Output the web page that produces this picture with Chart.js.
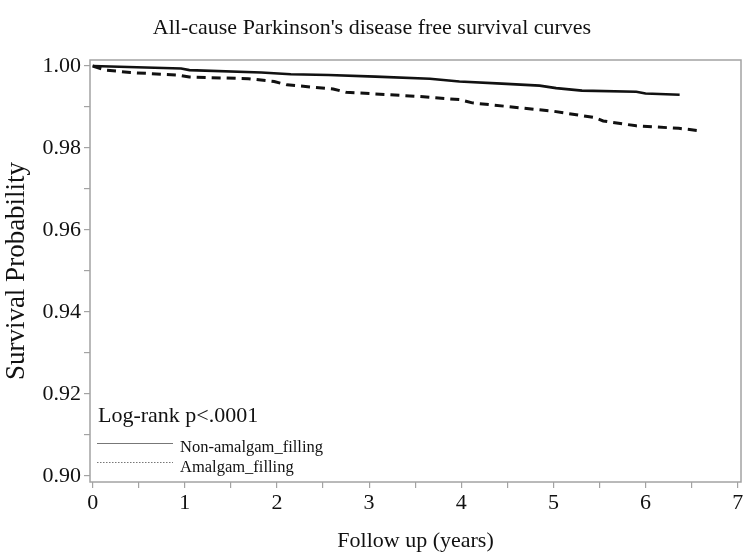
<!DOCTYPE html>
<html>
<head>
<meta charset="utf-8">
<script src="https://cdn.jsdelivr.net/npm/chart.js@4"></script>
<style>
html,body{margin:0;padding:0;background:#fff;}
#wrap{width:750px;height:560px;}
</style>
</head>
<body>
<div id="wrap"><canvas id="c" width="750" height="560"></canvas></div>
<script>
// ---- data ----
const chartTitle = "All-cause Parkinson's disease free survival curves";
const xTitle = "Follow up (years)";
const yTitle = "Survival Probability";
const seriesNames = ["Non-amalgam_filling", "Amalgam_filling"];
const annotationText = "Log-rank p<.0001";

const nonAmalgamTime = [0, 0.96, 1.05, 1.83, 2.15, 2.56, 3.07, 3.66, 3.98, 4.44, 4.85, 5.03, 5.31, 5.90, 6.00, 6.37];
const nonAmalgamSurv = [1.0000, 0.9994, 0.9990, 0.9984, 0.9980, 0.9978, 0.9974, 0.9969, 0.9962, 0.9957, 0.9952, 0.9946, 0.9940, 0.9937, 0.9933, 0.9930];

const amalgamTime = [0, 0.14, 0.41, 0.92, 1.05, 1.69, 1.97, 2.11, 2.61, 2.75, 3.52, 3.98, 4.12, 4.81, 4.99, 5.45, 5.54, 5.90, 6.36, 6.59];
const amalgamSurv = [1.0000, 0.9990, 0.9984, 0.9978, 0.9973, 0.9969, 0.9962, 0.9954, 0.9944, 0.9936, 0.9926, 0.9918, 0.9910, 0.9894, 0.9890, 0.9874, 0.9866, 0.9854, 0.9848, 0.9842];

const xTicks = [0, 0.5, 1, 1.5, 2, 2.5, 3, 3.5, 4, 4.5, 5, 5.5, 6, 6.5, 7];
const xTickLabels = ["0", "", "1", "", "2", "", "3", "", "4", "", "5", "", "6", "", "7"];
const yTicks = [0.90, 0.91, 0.92, 0.93, 0.94, 0.95, 0.96, 0.97, 0.98, 0.99, 1.00];
const yTickLabels = ["0.90", "", "0.92", "", "0.94", "", "0.96", "", "0.98", "", "1.00"];

// ---- chart ----
const FONT = "'Liberation Serif', 'DejaVu Serif', serif";
const TXT = '#111';
const FRAME = '#a3a3a3';

function toXY(xs, ys){ return xs.map((x,i)=>({x:x, y:ys[i]})); }

const overlay = {
  id: 'overlay',
  afterDraw(chart){
    const ctx = chart.ctx, a = chart.chartArea;
    ctx.save();
    // frame
    ctx.strokeStyle = FRAME; ctx.lineWidth = 1.5;
    ctx.strokeRect(a.left, a.top, a.right - a.left, a.bottom - a.top);
    // title
    ctx.fillStyle = TXT;
    ctx.font = "22px " + FONT;
    ctx.textAlign = 'center'; ctx.textBaseline = 'alphabetic';
    ctx.fillText(chartTitle, 372, 34);
    // annotation + legend inside plot
    ctx.textAlign = 'left';
    ctx.font = "22px " + FONT;
    ctx.fillText(annotationText, a.left + 8, a.top + 362);
    ctx.font = "16.5px " + FONT;
    ctx.fillText(seriesNames[0], a.left + 90, a.top + 392);
    ctx.fillText(seriesNames[1], a.left + 90, a.top + 412);
    ctx.strokeStyle = '#777'; ctx.lineWidth = 1;
    ctx.beginPath(); ctx.moveTo(a.left + 7, a.top + 383.5); ctx.lineTo(a.left + 83, a.top + 383.5); ctx.stroke();
    ctx.setLineDash([1.5, 1.5]);
    ctx.beginPath(); ctx.moveTo(a.left + 7, a.top + 402.5); ctx.lineTo(a.left + 83, a.top + 402.5); ctx.stroke();
    ctx.restore();
  }
};

new Chart(document.getElementById('c'), {
  type: 'line',
  data: {
    datasets: [
      { label: seriesNames[0], data: toXY(nonAmalgamTime, nonAmalgamSurv),
        borderColor: '#111', borderWidth: 2.6, pointRadius: 0, tension: 0, fill: false },
      { label: seriesNames[1], data: toXY(amalgamTime, amalgamSurv),
        borderColor: '#111', borderWidth: 3, borderDash: [9, 6], pointRadius: 0, tension: 0, fill: false }
    ]
  },
  options: {
    responsive: false,
    animation: false,
    events: [],
    layout: { padding: { top: 60, right: 9, left: 0, bottom: 0 } },
    plugins: { legend: { display: false }, title: { display: false }, tooltip: { enabled: false } },
    scales: {
      x: {
        type: 'linear', min: -0.029, max: 7.036,
        afterBuildTicks(s){ s.ticks = xTicks.map(v=>({value:v})); },
        afterFit(s){ s.height = 78; },
        grid: { display: true, drawOnChartArea: false, drawTicks: true, tickLength: 6, color: FRAME, lineWidth: 1.2 },
        border: { display: false },
        ticks: { autoSkip: false, maxRotation: 0, padding: 2, color: TXT, font: { family: FONT, size: 22 },
          callback(v, i){ return xTickLabels[i]; } },
        title: { display: true, text: xTitle, color: TXT, font: { family: FONT, size: 22 }, padding: { top: 4, bottom: 6 } }
      },
      y: {
        type: 'linear', min: 0.89854, max: 1.00146,
        afterBuildTicks(s){ s.ticks = yTicks.map(v=>({value:v})); },
        afterFit(s){ s.width = 90; },
        grid: { display: true, drawOnChartArea: false, drawTicks: true, tickLength: 6, color: FRAME, lineWidth: 1.2 },
        border: { display: false },
        ticks: { autoSkip: false, padding: 3, color: TXT, font: { family: FONT, size: 22 },
          callback(v, i){ return yTickLabels[i]; } },
        title: { display: true, text: yTitle, color: TXT, font: { family: FONT, size: 27 }, padding: { top: 1, bottom: 2 } }
      }
    }
  },
  plugins: [overlay]
});
</script>
</body>
</html>
